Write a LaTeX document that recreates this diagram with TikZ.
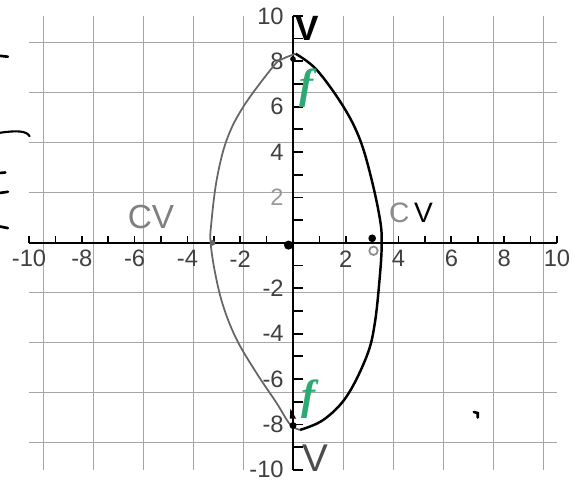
\documentclass[tikz,border=0pt]{standalone}
\usepackage{fontspec}
\setmainfont{Liberation Sans}
\newfontfamily\penfont{Liberation Serif}
\definecolor{pengreen}{RGB}{45,170,115}
\begin{document}
\begin{tikzpicture}[x=0.528cm, y=0.454cm, >=stealth,
  ticklabel/.style={font=\fontsize{13.5}{14}\selectfont, text=black!75, inner sep=0pt},
  hand/.style={inner sep=0pt}]
  \useasboundingbox (-11.1,-10.75) rectangle (10.57,10.7);
  \fill[white] (-11.1,-10.75) rectangle (10.57,10.7);

  \draw[black!35, line width=0.5pt] (-10,-10) grid (10,10);
  \draw[line width=1.1pt] (-10,0) -- (10,0);
  \draw[line width=1.1pt] (0,-10) -- (0,10);
  \foreach \i in {-10,...,10} {
    \draw[line width=1pt] (\i,0) -- (\i,0.32);
    \draw[line width=1pt] (0,\i) -- (0.38,\i);
  }
  \foreach \i in {-10,-8,-6,-4,-2,2,4,6,8,10}
    \node[ticklabel] (xl\i) at (\i,-0.7) {\i};
  \foreach \i in {-10,-8,-6,-4,-2,4,6,8,10}
    \node[ticklabel, anchor=east] (yl\i) at (-0.34,\i) {\i};
  \node[ticklabel, anchor=east, text=black!40] (yl2) at (-0.34,2) {2};

  \draw[black!60, line width=1pt] plot[smooth, tension=0.6] coordinates {
    (0.1,8.33) (-0.4,8.1) (-0.75,7.77) (-1.88,6.0) (-2.51,4.54) (-2.89,2.78)
    (-3.1,0.8) (-3.12,0) (-2.95,-1.33) (-2.64,-2.8) (-2.13,-4.27) (-1.38,-5.74)
    (-0.62,-7.06) (-0.11,-8.0) (0.27,-8.24)};
  \draw[line width=1.4pt] plot[smooth, tension=0.6] coordinates {
    (0.27,-8.24) (1.15,-7.8) (2.03,-6.77) (2.79,-5.0) (3.1,-3.54) (3.3,-1.33)
    (3.36,0) (3.3,1.0) (2.98,2.78) (2.54,4.54) (1.91,6.0) (0.9,7.62) (0.1,8.33)};

  \fill (-0.17,-0.1) circle[radius=2.6pt];
  \fill (3.0,0.2) circle[radius=2.2pt];
  \draw[black!45, line width=1pt] (3.05,-0.35) circle[radius=2.4pt];
  \fill[black!60] (-3.05,0) circle[radius=1.6pt];
  \fill (0,8.1) circle[radius=1.6pt];
  \fill (0,-8.05) circle[radius=2pt];
  \fill (-0.1,-7.3) -- (0.12,-7.75) -- (-0.12,-7.75) -- cycle;

  \node[hand, font=\fontsize{20}{22}\selectfont\bfseries] (vtop) at (0.53,9.43) {V};
  \node[hand, font=\fontsize{22}{24}\selectfont, text=black!70] (vbot) at (0.83,-9.5) {V};
  \node[hand, font=\fontsize{19}{21}\selectfont, text=black!50] (cvl) at (-5.38,1.15) {CV};
  \node[hand, font=\fontsize{16}{18}\selectfont] (cvr) at (4.47,1.32) {\textcolor{black!45}{C}\,V};
  \node[hand, font=\penfont\fontsize{24}{26}\selectfont\itshape\bfseries, text=pengreen] (ftop) at (0.5,6.8) {f};
  \node[hand, font=\penfont\fontsize{24}{26}\selectfont\itshape\bfseries, text=pengreen] (fbot) at (0.6,-6.9) {f};

  \draw[line width=1.5pt, line cap=round] (-11.1,8.24) -- (-10.8,8.2);
  \draw[line width=1.2pt, line cap=round] (-11.1,4.85) .. controls (-10.5,4.95) and (-10.1,4.95) .. (-9.98,4.7);
  \draw[line width=1.5pt, line cap=round] (-11.1,3.08) -- (-10.9,3.1);
  \draw[line width=1.5pt, line cap=round] (-11.1,2.2) -- (-10.8,2.25);
  \draw[line width=1.5pt, line cap=round] (-11.1,0.72) -- (-10.8,0.65);
  \draw[line width=1.5pt, line cap=round] (6.85,-7.45) -- (7.0,-7.5) -- (7.0,-7.7);
\end{tikzpicture}
\end{document}
